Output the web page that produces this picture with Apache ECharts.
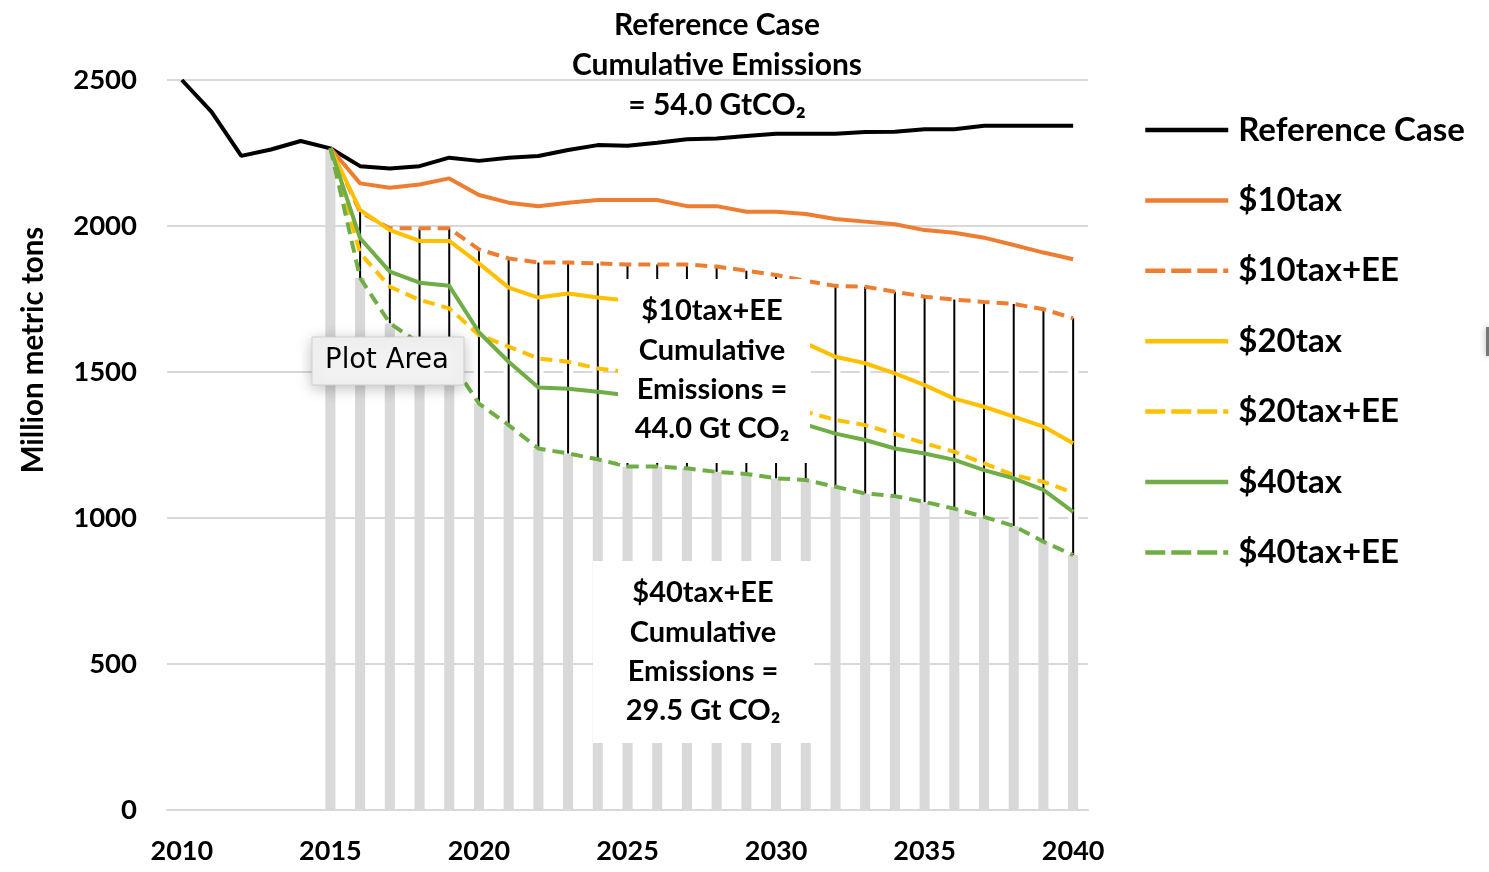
<!DOCTYPE html>
<html>
<head>
<meta charset="utf-8">
<script src="https://cdn.jsdelivr.net/npm/echarts@6/dist/echarts.min.js"></script>
<style>
  html, body { margin: 0; padding: 0; background: #fff; }
  #container { width: 1489px; height: 872px; }
</style>
</head>
<body>
<div id="container"></div>
<script>
var years = ['2010','2011','2012','2013','2014','2015','2016','2017','2018','2019','2020',
  '2021','2022','2023','2024','2025','2026','2027','2028','2029','2030',
  '2031','2032','2033','2034','2035','2036','2037','2038','2039','2040'];

// Reference case covers 2010-2040, the policy cases start in 2015
var refCase = [2500, 2391, 2240, 2262, 2291, 2266, 2205, 2197, 2205, 2234, 2223, 2234, 2240, 2260, 2277,
  2275, 2285, 2297, 2300, 2308, 2316, 2316, 2316, 2322, 2323, 2331, 2331, 2343, 2343, 2343, 2343];
var tax10 = [2266, 2146, 2131, 2142, 2163, 2106, 2080, 2068, 2080, 2089, 2089, 2089, 2068, 2068, 2049,
  2049, 2041, 2024, 2015, 2006, 1986, 1977, 1960, 1935, 1909, 1886];
var tax10EE = [2266, 2048, 1992, 1992, 1992, 1920, 1889, 1875, 1875, 1872, 1868, 1868, 1868, 1861, 1847,
  1832, 1812, 1795, 1792, 1775, 1758, 1748, 1740, 1733, 1715, 1684];
var tax20 = [2266, 2055, 1986, 1949, 1949, 1872, 1789, 1755, 1769, 1755, 1745, 1720, 1700, 1680, 1655,
  1630, 1598, 1552, 1530, 1495, 1455, 1409, 1381, 1347, 1313, 1256];
var tax20EE = [2266, 1907, 1792, 1747, 1718, 1627, 1587, 1546, 1535, 1512, 1500, 1480, 1455, 1430, 1410,
  1385, 1364, 1336, 1318, 1288, 1256, 1227, 1187, 1147, 1124, 1087];
var tax40 = [2266, 1958, 1844, 1806, 1795, 1636, 1535, 1447, 1443, 1432, 1420, 1400, 1385, 1365, 1350,
  1335, 1320, 1289, 1267, 1238, 1221, 1199, 1164, 1136, 1096, 1021];
var tax40EE = [2266, 1822, 1667, 1598, 1545, 1392, 1318, 1238, 1221, 1201, 1176, 1176, 1170, 1158, 1151,
  1136, 1130, 1107, 1084, 1075, 1055, 1032, 1004, 973, 919, 873];
var firstPolicyYear = 5; // index of 2015

var FONT = 'Lato, "Open Sans", sans-serif';
var ORANGE = '#ED7D31', YELLOW = '#FFC000', GREEN = '#70AD47';
var DASH = [12, 7];

function pad(arr) {
  var out = [];
  for (var i = 0; i < firstPolicyYear; i++) out.push(null);
  return out.concat(arr);
}

// bars: gray up to $40tax+EE, white gap with black line up to $10tax+EE
var rangeData = [];
for (var i = 0; i < tax40EE.length; i++) {
  rangeData.push([firstPolicyYear + i, tax40EE[i], tax10EE[i]]);
}

function lineSeries(name, data, color, dashed) {
  return {
    name: name,
    type: 'line',
    data: data,
    symbol: 'none',
    z: 5,
    lineStyle: { color: color, width: 4, type: dashed ? DASH : 'solid' },
    itemStyle: { color: color }
  };
}

var dom = document.getElementById('container');
var myChart = echarts.init(dom);

var legendDash = { type: [20, 6], width: 4.5 };

var option = {
  animation: false,
  grid: { left: 167, right: 401, top: 80, bottom: 62 },
  legend: {
    orient: 'vertical',
    left: 1143,
    top: 113,
    padding: 0,
    itemWidth: 83,
    itemHeight: 4,
    itemGap: 36.4,
    itemStyle: { opacity: 0 },
    lineStyle: { width: 4.5 },
    textStyle: { fontFamily: FONT, fontWeight: 'bold', fontSize: 33, lineHeight: 34, color: '#000', padding: [0, 0, 0, 5] },
    data: [
      'Reference Case', '$10tax',
      { name: '$10tax+EE', lineStyle: legendDash },
      '$20tax',
      { name: '$20tax+EE', lineStyle: legendDash },
      '$40tax',
      { name: '$40tax+EE', lineStyle: legendDash }
    ]
  },
  xAxis: {
    type: 'category',
    data: years,
    boundaryGap: true,
    axisLine: { show: true, lineStyle: { color: '#d9d9d9', width: 2 } },
    axisTick: { show: false },
    axisLabel: { interval: 4, margin: 28, fontFamily: FONT, fontWeight: 'bold', fontSize: 27, color: '#000' }
  },
  yAxis: {
    type: 'value',
    min: 0,
    max: 2500,
    interval: 500,
    axisLine: { show: false },
    axisTick: { show: false },
    splitLine: { lineStyle: { color: '#d9d9d9', width: 2 } },
    axisLabel: {
      margin: 30, fontFamily: FONT, fontWeight: 'bold', fontSize: 27.5, color: '#000',
      formatter: function (v) { return String(v); }
    }
  },
  series: [
    {
      type: 'custom',
      name: 'range',
      z: 2,
      data: rangeData,
      encode: { x: 0, y: [1, 2] },
      renderItem: function (params, api) {
        var x = api.value(0);
        var lo = api.value(1), hi = api.value(2);
        var p0 = api.coord([x, 0]);
        var p1 = api.coord([x, lo]);
        var p2 = api.coord([x, hi]);
        var w = api.size([1, 0])[0] * 0.34;
        return {
          type: 'group',
          children: [
            { type: 'rect', shape: { x: p0[0] - w / 2, y: p1[1], width: w, height: p0[1] - p1[1] }, style: { fill: '#d9d9d9' } },
            { type: 'rect', shape: { x: p0[0] - w / 2, y: p2[1], width: w, height: p1[1] - p2[1] }, style: { fill: '#fff' } },
            { type: 'line', shape: { x1: p0[0], y1: p2[1], x2: p0[0], y2: p1[1] }, style: { stroke: '#000', lineWidth: 2 } }
          ]
        };
      }
    },
    lineSeries('Reference Case', refCase, '#000', false),
    lineSeries('$10tax', pad(tax10), ORANGE, false),
    lineSeries('$10tax+EE', pad(tax10EE), ORANGE, true),
    lineSeries('$20tax', pad(tax20), YELLOW, false),
    lineSeries('$20tax+EE', pad(tax20EE), YELLOW, true),
    lineSeries('$40tax', pad(tax40), GREEN, false),
    lineSeries('$40tax+EE', pad(tax40EE), GREEN, true)
  ],
  graphic: [
    {
      type: 'text', z: 100, x: 33, y: 350, rotation: Math.PI / 2,
      style: {
        text: 'Million metric tons', align: 'center', verticalAlign: 'middle',
        fontFamily: FONT, fontWeight: 'bold', fontSize: 29.5, fill: '#000'
      }
    },
    {
      type: 'text', z: 100, x: 717, y: 65,
      style: {
        text: 'Reference Case\nCumulative Emissions\n= 54.0 GtCO₂',
        align: 'center', verticalAlign: 'middle', lineHeight: 40,
        fontFamily: FONT, fontWeight: 'bold', fontSize: 30, fill: '#000'
      }
    },
    { type: 'rect', z: 100, shape: { x: 618, y: 279, width: 192, height: 184 }, style: { fill: '#fff' } },
    {
      type: 'text', z: 101, x: 712, y: 370,
      style: {
        text: '$10tax+EE\nCumulative\nEmissions =\n44.0 Gt CO₂',
        align: 'center', verticalAlign: 'middle', lineHeight: 39.3,
        fontFamily: FONT, fontWeight: 'bold', fontSize: 29, fill: '#000'
      }
    },
    { type: 'rect', z: 100, shape: { x: 593, y: 561, width: 221, height: 182 }, style: { fill: '#fff' } },
    {
      type: 'text', z: 101, x: 703, y: 652,
      style: {
        text: '$40tax+EE\nCumulative\nEmissions =\n29.5 Gt CO₂',
        align: 'center', verticalAlign: 'middle', lineHeight: 39.3,
        fontFamily: FONT, fontWeight: 'bold', fontSize: 29, fill: '#000'
      }
    },
    {
      type: 'rect', z: 110, shape: { x: 312, y: 337, width: 152, height: 48 },
      style: { fill: '#f2f2f2', stroke: '#cfcfcf', lineWidth: 1, shadowBlur: 14, shadowColor: 'rgba(0,0,0,0.25)', shadowOffsetY: 3 }
    },
    {
      type: 'text', z: 111, x: 387, y: 361,
      style: {
        text: 'Plot Area', align: 'center', verticalAlign: 'middle',
        fontFamily: '"DejaVu Sans", sans-serif', fontSize: 27.5, fill: '#000'
      }
    },
    {
      type: 'rect', z: 110, shape: { x: 1486, y: 327, width: 4, height: 29 },
      style: { fill: '#777', shadowBlur: 6, shadowColor: 'rgba(0,0,0,0.3)' }
    }
  ]
};

if (option && typeof option === 'object') {
  myChart.setOption(option, true);
}
</script>
</body>
</html>
